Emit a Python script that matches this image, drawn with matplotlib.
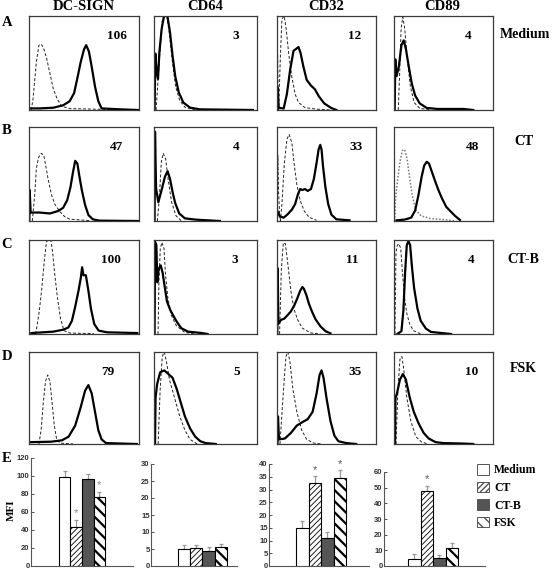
import matplotlib
matplotlib.use("Agg")
import matplotlib.pyplot as plt
from matplotlib.patches import Patch

W, H = 560, 571
SERIF = ["Liberation Serif", "DejaVu Serif"]
SANS = ["Liberation Sans", "DejaVu Sans"]

# ---------------- data ----------------
markers = ["DC-SIGN", "CD64", "CD32", "CD89"]
conditions = ["Medium", "CT", "CT-B", "FSK"]
row_letters = ["A", "B", "C", "D"]

# MFI numbers printed in the histogram panels (rows = condition, cols = marker)
mfi_medium = [106, 3, 12, 4]
mfi_ct = [47, 4, 33, 48]
mfi_ctb = [100, 3, 11, 4]
mfi_fsk = [79, 5, 35, 10]

# Histogram curves: (relative log fluorescence, relative count); iso = control (dashed), ab = stained (solid)
medium_dcsign_iso = [(0.02,0.0),(0.036,0.11),(0.067,0.51),(0.09,0.69),(0.11,0.70),(0.13,0.67),(0.16,0.55),(0.19,0.39),(0.22,0.23),(0.255,0.12),(0.295,0.04),(0.37,0.015),(0.67,0.007),(0.95,0.0)]
medium_dcsign_ab = [(0.006,0.017),(0.097,0.017),(0.22,0.024),(0.31,0.05),(0.37,0.094),(0.41,0.18),(0.44,0.34),(0.47,0.51),(0.50,0.645),(0.52,0.69),(0.545,0.62),(0.57,0.46),(0.60,0.25),(0.63,0.094),(0.66,0.017),(0.83,0.007),(0.99,0.0)]
medium_cd64_iso = [(0.02,0.0),(0.05,0.5),(0.08,0.95),(0.1,1.0),(0.125,1.0),(0.15,0.8),(0.18,0.5),(0.21,0.25),(0.25,0.1),(0.3,0.03),(0.4,0.0)]
medium_cd64_ab = [(0.006,0.0),(0.013,0.60),(0.026,0.40),(0.039,0.33),(0.052,0.61),(0.074,0.86),(0.097,1.0),(0.13,1.0),(0.155,0.83),(0.18,0.58),(0.206,0.36),(0.24,0.19),(0.284,0.08),(0.35,0.025),(0.445,0.007),(0.96,0.0)]
medium_cd32_iso = [(0.003,0.0),(0.006,0.6),(0.012,0.05),(0.017,0.0),(0.033,0.53),(0.05,0.97),(0.073,1.0),(0.093,0.86),(0.117,0.61),(0.15,0.35),(0.183,0.17),(0.217,0.08),(0.283,0.025),(0.42,0.007),(0.55,0.0)]
medium_cd32_ab = [(0.003,0.0),(0.007,0.24),(0.017,0.025),(0.067,0.015),(0.1,0.17),(0.133,0.43),(0.167,0.63),(0.193,0.65),(0.217,0.67),(0.237,0.61),(0.267,0.46),(0.3,0.32),(0.343,0.26),(0.383,0.22),(0.423,0.145),(0.477,0.07),(0.55,0.02),(0.6,0.0)]
medium_cd89_iso = [(0.043,0.0),(0.056,0.36),(0.072,0.87),(0.089,0.99),(0.108,0.87),(0.131,0.58),(0.164,0.26),(0.203,0.08),(0.26,0.018),(0.377,0.0)]
medium_cd89_ab = [(0.007,0.0),(0.013,0.54),(0.026,0.36),(0.05,0.47),(0.075,0.69),(0.098,0.74),(0.12,0.65),(0.148,0.47),(0.18,0.28),(0.213,0.155),(0.26,0.07),(0.33,0.022),(0.44,0.011),(0.7,0.011),(0.8,0.0)]

ct_dcsign_iso = [(0.03,0.0),(0.052,0.28),(0.067,0.56),(0.088,0.68),(0.112,0.72),(0.134,0.70),(0.152,0.59),(0.173,0.45),(0.204,0.28),(0.234,0.18),(0.28,0.10),(0.325,0.046),(0.37,0.02),(0.55,0.004)]
ct_dcsign_ab = [(0.003,0.0),(0.006,0.33),(0.015,0.09),(0.097,0.09),(0.19,0.08),(0.264,0.106),(0.31,0.14),(0.347,0.22),(0.377,0.36),(0.40,0.52),(0.42,0.64),(0.44,0.61),(0.456,0.49),(0.48,0.33),(0.51,0.17),(0.54,0.064),(0.58,0.018),(0.64,0.004),(0.99,0.0)]
ct_cd64_iso = [(0.032,0.0),(0.052,0.24),(0.071,0.63),(0.09,0.72),(0.113,0.66),(0.139,0.43),(0.171,0.2),(0.213,0.057),(0.268,0.0)]
ct_cd64_ab = [(0.006,0.0),(0.01,0.95),(0.02,0.35),(0.042,0.2),(0.074,0.33),(0.106,0.47),(0.132,0.53),(0.155,0.45),(0.18,0.31),(0.206,0.19),(0.245,0.08),(0.30,0.028),(0.41,0.014),(0.64,0.0)]
ct_cd32_iso = [(0.004,0.0),(0.008,0.7),(0.016,0.3),(0.028,0.05),(0.034,0.0),(0.05,0.18),(0.073,0.6),(0.10,0.87),(0.123,0.92),(0.15,0.83),(0.174,0.6),(0.2,0.39),(0.234,0.22),(0.273,0.11),(0.323,0.04),(0.4,0.007)]
ct_cd32_ab = [(0.003,0.11),(0.027,0.05),(0.067,0.035),(0.106,0.07),(0.15,0.12),(0.183,0.18),(0.21,0.28),(0.234,0.34),(0.256,0.33),(0.283,0.34),(0.31,0.32),(0.343,0.34),(0.373,0.45),(0.4,0.62),(0.42,0.76),(0.437,0.81),(0.45,0.76),(0.466,0.57),(0.489,0.36),(0.517,0.18),(0.55,0.067),(0.6,0.018),(0.733,0.007)]
ct_cd89_iso = [(0.007,0.0),(0.016,0.25),(0.043,0.49),(0.062,0.64),(0.085,0.75),(0.108,0.76),(0.134,0.65),(0.16,0.44),(0.19,0.24),(0.223,0.116),(0.272,0.055),(0.37,0.025),(0.5,0.015),(0.63,0.0)]
ct_cd89_ab = [(0.026,0.007),(0.108,0.015),(0.174,0.036),(0.213,0.11),(0.246,0.27),(0.279,0.47),(0.305,0.59),(0.331,0.63),(0.354,0.61),(0.387,0.51),(0.42,0.41),(0.452,0.32),(0.485,0.24),(0.528,0.15),(0.574,0.1),(0.616,0.055),(0.666,0.011)]

ctb_dcsign_iso = [(0.061,0.0),(0.092,0.23),(0.116,0.48),(0.141,0.8),(0.159,0.98),(0.174,1.0),(0.199,1.0),(0.214,0.875),(0.235,0.625),(0.26,0.375),(0.287,0.16),(0.318,0.036),(0.373,0.01),(0.59,0.004)]
ctb_dcsign_ab = [(0.021,0.01),(0.22,0.025),(0.312,0.046),(0.358,0.07),(0.39,0.14),(0.42,0.29),(0.45,0.46),(0.47,0.59),(0.483,0.71),(0.495,0.625),(0.517,0.625),(0.54,0.46),(0.563,0.27),(0.593,0.107),(0.633,0.036),(0.71,0.018),(0.985,0.01)]
ctb_cd64_iso = [(0.039,0.0),(0.048,0.55),(0.061,0.91),(0.077,0.975),(0.097,0.91),(0.11,0.655),(0.135,0.38),(0.168,0.2),(0.216,0.09),(0.297,0.018),(0.39,0.0)]
ctb_cd64_ab = [(0.006,0.0),(0.01,0.98),(0.023,0.945),(0.032,0.55),(0.045,0.69),(0.065,0.73),(0.084,0.65),(0.103,0.51),(0.126,0.345),(0.158,0.255),(0.19,0.19),(0.223,0.127),(0.265,0.062),(0.33,0.025),(0.458,0.011),(0.52,0.0)]
ctb_cd32_iso = [(0.026,0.0),(0.043,0.67),(0.064,0.97),(0.085,0.96),(0.11,0.74),(0.14,0.46),(0.17,0.27),(0.207,0.155),(0.255,0.063),(0.34,0.011),(0.44,0.0)]
ctb_cd32_ab = [(0.003,0.0),(0.007,0.7),(0.014,0.11),(0.04,0.15),(0.073,0.163),(0.106,0.2),(0.14,0.24),(0.173,0.3),(0.207,0.385),(0.234,0.46),(0.257,0.5),(0.272,0.48),(0.298,0.41),(0.323,0.32),(0.357,0.23),(0.39,0.155),(0.44,0.08),(0.49,0.03),(0.54,0.007)]
ctb_cd89_iso = [(0.01,0.0),(0.02,0.87),(0.034,0.945),(0.05,0.96),(0.068,0.91),(0.085,0.655),(0.105,0.4),(0.129,0.22),(0.16,0.1),(0.197,0.036),(0.27,0.0)]
ctb_cd89_ab = [(0.034,0.0),(0.075,0.03),(0.095,0.25),(0.112,0.65),(0.129,0.945),(0.146,0.99),(0.163,0.945),(0.18,0.73),(0.203,0.49),(0.237,0.27),(0.27,0.14),(0.322,0.058),(0.373,0.022),(0.508,0.007),(0.576,0.0)]

fsk_dcsign_iso = [(0.09,0.0),(0.11,0.15),(0.13,0.45),(0.15,0.68),(0.17,0.75),(0.19,0.68),(0.21,0.45),(0.23,0.2),(0.25,0.06),(0.28,0.01),(0.4,0.0)]
fsk_dcsign_ab = [(0.01,0.02),(0.2,0.025),(0.3,0.04),(0.36,0.08),(0.42,0.2),(0.47,0.4),(0.51,0.58),(0.54,0.64),(0.57,0.55),(0.6,0.35),(0.63,0.15),(0.66,0.05),(0.7,0.01),(0.98,0.0)]
fsk_cd64_iso = [(0.04,0.0),(0.06,0.6),(0.08,0.95),(0.1,1.0),(0.12,0.9),(0.15,0.7),(0.2,0.5),(0.25,0.3),(0.3,0.15),(0.35,0.05),(0.42,0.0)]
fsk_cd64_ab = [(0.01,0.0),(0.015,0.5),(0.03,0.65),(0.06,0.78),(0.1,0.8),(0.14,0.76),(0.18,0.72),(0.22,0.6),(0.26,0.45),(0.3,0.3),(0.35,0.17),(0.4,0.08),(0.45,0.03),(0.5,0.01),(0.6,0.0)]
fsk_cd32_iso = [(0.03,0.0),(0.06,0.5),(0.09,0.95),(0.11,1.0),(0.13,0.9),(0.16,0.6),(0.2,0.35),(0.25,0.15),(0.3,0.05),(0.37,0.01),(0.45,0.0)]
fsk_cd32_ab = [(0.005,0.0),(0.01,0.3),(0.02,0.05),(0.08,0.06),(0.14,0.12),(0.2,0.2),(0.26,0.24),(0.31,0.27),(0.36,0.35),(0.4,0.55),(0.43,0.75),(0.45,0.8),(0.47,0.72),(0.5,0.5),(0.54,0.25),(0.58,0.09),(0.62,0.03),(0.7,0.01),(0.8,0.0)]
fsk_cd89_iso = [(0.02,0.0),(0.04,0.6),(0.06,0.92),(0.08,0.95),(0.1,0.8),(0.13,0.5),(0.17,0.25),(0.22,0.08),(0.28,0.02),(0.35,0.0)]
fsk_cd89_ab = [(0.01,0.0),(0.015,0.5),(0.03,0.55),(0.06,0.7),(0.09,0.76),(0.12,0.7),(0.16,0.5),(0.2,0.35),(0.25,0.22),(0.3,0.12),(0.35,0.06),(0.42,0.02),(0.5,0.01),(0.7,0.005),(0.8,0.0)]

# Bar chart (panel E): mean MFI and upper error per condition
dcsign_mfi = [99, 43, 97, 76.5]
dcsign_err = [7, 8, 5, 6]
cd64_mfi = [5.1, 5.4, 4.4, 5.5]
cd64_err = [1.1, 0.8, 1.3, 0.9]
cd32_mfi = [14.8, 32.5, 11, 34.6]
cd32_err = [3, 2.7, 2.5, 3]
cd89_mfi = [4.6, 48, 5, 11.7]
cd89_err = [3.3, 3.3, 2.2, 2.9]
dcsign_sig = [False, True, False, True]
cd64_sig = [False, False, False, False]
cd32_sig = [False, True, False, True]
cd89_sig = [False, True, False, False]
dcsign_ticks = [0, 20, 40, 60, 80, 100, 120]
cd64_ticks = [0, 5, 10, 15, 20, 25, 30]
cd32_ticks = [0, 5, 10, 15, 20, 25, 30, 35, 40]
cd89_ticks = [0, 10, 20, 30, 40, 50, 60]

# ---------------- layout ----------------
fig = plt.figure(figsize=(W / 100, H / 100), dpi=100)
fig.patch.set_facecolor("white")


def px_axes(x0, y0, x1, y1):
    return fig.add_axes([x0 / W, 1 - y1 / H, (x1 - x0) / W, (y1 - y0) / H])


def ftext(x, y, s, **kw):
    fig.text(x / W, 1 - y / H, s, **kw)


col_x = [(29, 139), (154, 257), (277, 376), (394, 493)]
row_y = [(16, 110), (127, 221), (240, 334), (352, 444)]
label_xy = [(117, 236, 355, 468), (116, 236, 356, 473), (111, 235, 352, 471), (108, 237, 355, 472)]
label_y_off = 20

hist_iso = [
    [medium_dcsign_iso, medium_cd64_iso, medium_cd32_iso, medium_cd89_iso],
    [ct_dcsign_iso, ct_cd64_iso, ct_cd32_iso, ct_cd89_iso],
    [ctb_dcsign_iso, ctb_cd64_iso, ctb_cd32_iso, ctb_cd89_iso],
    [fsk_dcsign_iso, fsk_cd64_iso, fsk_cd32_iso, fsk_cd89_iso],
]
hist_ab = [
    [medium_dcsign_ab, medium_cd64_ab, medium_cd32_ab, medium_cd89_ab],
    [ct_dcsign_ab, ct_cd64_ab, ct_cd32_ab, ct_cd89_ab],
    [ctb_dcsign_ab, ctb_cd64_ab, ctb_cd32_ab, ctb_cd89_ab],
    [fsk_dcsign_ab, fsk_cd64_ab, fsk_cd32_ab, fsk_cd89_ab],
]
mfi_rows = [mfi_medium, mfi_ct, mfi_ctb, mfi_fsk]

for r in range(4):
    y0, y1 = row_y[r]
    for c in range(4):
        x0, x1 = col_x[c]
        ax = px_axes(x0, y0, x1, y1)
        ax.set_xlim(0, 1)
        ax.set_ylim(0, 1.0)
        ax.set_xticks([])
        ax.set_yticks([])
        for sp in ax.spines.values():
            sp.set_linewidth(0.9)
            sp.set_color("#3a3a3a")
        iso = hist_iso[r][c]
        ab = hist_ab[r][c]
        if r == 1 and c == 3:
            ax.plot([p[0] for p in iso], [p[1] for p in iso], color="#777777",
                    lw=1.1, ls=(0, (1, 1.2)))
        else:
            ax.plot([p[0] for p in iso], [p[1] for p in iso], color="#222222",
                    lw=0.7, ls=(0, (3, 2)))
        ax.plot([p[0] for p in ab], [p[1] for p in ab], color="black", lw=1.6,
                solid_joinstyle="round")
        ax.text((label_xy[r][c] - x0) / (x1 - x0), 1 - label_y_off / (y1 - y0),
                str(mfi_rows[r][c]), transform=ax.transAxes, ha="center",
                va="center", fontsize=9.5, fontweight="bold", family=SERIF)

# column headers
header_x = [84, 205, 326, 442]
for name, hx in zip(markers, header_x):
    ftext(hx, 7, name, ha="center", va="center", fontsize=10.5,
          fontweight="bold", family=SERIF)

# row letters
for letter, ly in zip(row_letters + ["E"], [22, 130, 245, 357, 458]):
    ftext(7, ly, letter, ha="center", va="center", fontsize=10.5,
          fontweight="bold", family=SERIF)

# right-side condition labels
for name, (rx, ry) in zip(conditions, [(500, 35), (514, 141), (507, 259), (510, 369)]):
    ftext(rx, ry, name, ha="left", va="center", fontsize=10,
          fontweight="bold", family=SERIF)

# ---------------- panel E bar charts ----------------
bar_faces = ["white", "white", "#555555", "white"]
bar_hatches = [None, "//////", None, "\\\\\\"]
bar_hatch_lw = [1.0, 0.6, 1.0, 1.6]

bar_sets = [
    (dcsign_mfi, dcsign_err, dcsign_sig, dcsign_ticks, (31, 458, 133, 566), (-2.93, 5.93), "#888888"),
    (cd64_mfi, cd64_err, cd64_sig, cd64_ticks, (151, 464, 237, 566), (-2.7, 4.32), "black"),
    (cd32_mfi, cd32_err, cd32_sig, cd32_ticks, (269, 464, 369, 566), (-2.66, 5.34), "#555555"),
    (cd89_mfi, cd89_err, cd89_sig, cd89_ticks, (384, 472, 485, 566), (-2.42, 5.66), "#555555"),
]

for vals, errs, sig, ticks, box, xl, star_color in bar_sets:
    ax = px_axes(box[0], box[1], box[2], box[3])
    pos = list(range(len(conditions)))
    bars = ax.bar(pos, vals, width=1.0, color=bar_faces, edgecolor="black",
                  linewidth=0.8, zorder=3)
    for b, h, hl in zip(bars, bar_hatches, bar_hatch_lw):
        if h:
            b.set_hatch(h)
            if hasattr(b, "set_hatch_linewidth"):
                b.set_hatch_linewidth(hl)
    ax.errorbar(pos, vals, yerr=[[0] * len(vals), errs], fmt="none",
                ecolor="#999999", elinewidth=0.9, capsize=1.5, capthick=0.9,
                zorder=2)
    top = ticks[-1]
    for p, v, e, s in zip(pos, vals, errs, sig):
        if s:
            ax.text(p, v + e + top * 0.015, "*", ha="center", va="bottom",
                    fontsize=8, color=star_color, family=SANS)
    ax.set_ylim(0, top)
    ax.set_xlim(*xl)
    ax.set_yticks(ticks)
    ax.set_yticklabels([str(t) for t in ticks])
    ax.set_xticks([])
    for side in ("top", "right"):
        ax.spines[side].set_visible(False)
    for side in ("left", "bottom"):
        ax.spines[side].set_linewidth(0.8)
        ax.spines[side].set_color("#555555")
    ax.tick_params(axis="y", direction="in", length=2, width=0.6, pad=1,
                   labelsize=5.5, colors="#333333")
    for lab in ax.get_yticklabels():
        lab.set_fontweight("bold")
        lab.set_family(SANS)
    ax.patch.set_alpha(0)

ftext(11, 510, "MFI", ha="center", va="center", rotation=90, fontsize=8,
      fontweight="bold", family=SERIF)

handles = []
for f, h in zip(bar_faces, bar_hatches):
    handles.append(Patch(facecolor=f, edgecolor="#555555", hatch=h, linewidth=0.7))
fig.legend(handles, conditions, loc="upper left",
           bbox_to_anchor=(477 / W, 1 - 464 / H), frameon=False,
           prop={"family": SERIF, "weight": "bold", "size": 8.5},
           handlelength=1.0, handleheight=1.0, labelspacing=0.45,
           handletextpad=0.45, borderpad=0, borderaxespad=0)

fig.savefig("out.png", dpi=100, facecolor="white")
